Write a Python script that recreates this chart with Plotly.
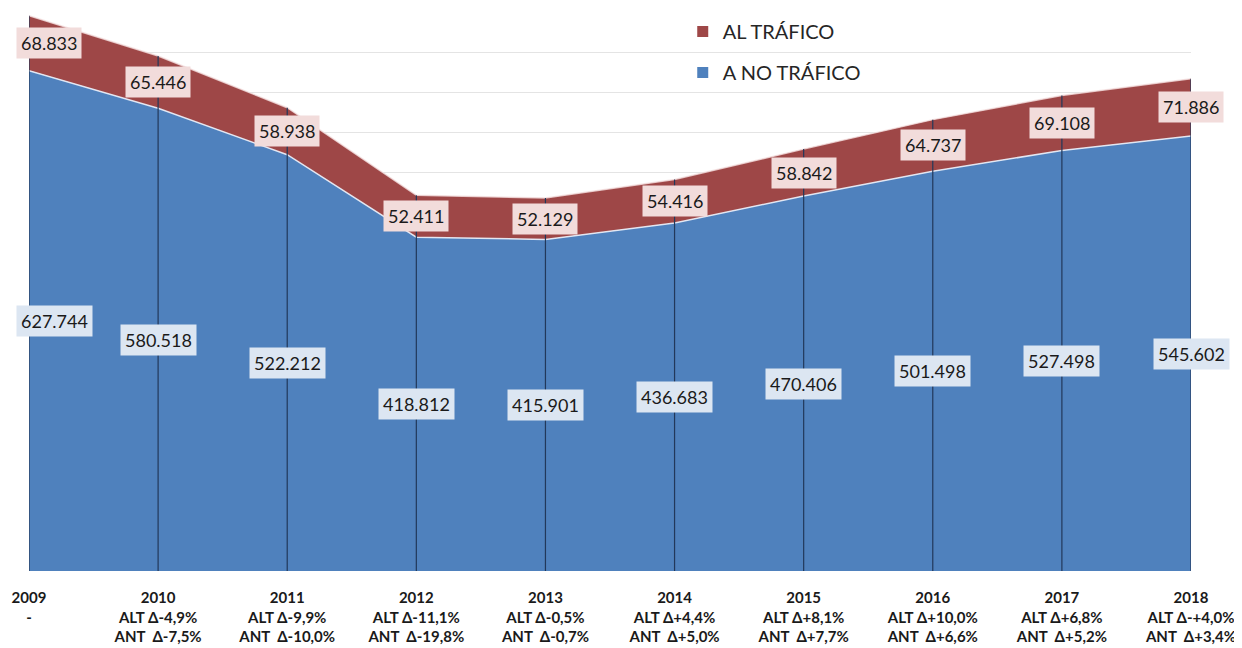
import plotly.graph_objects as go

years = ["2009", "2010", "2011", "2012", "2013", "2014", "2015", "2016", "2017", "2018"]
alt_changes = ["-", "ALT Δ-4,9%", "ALT Δ-9,9%", "ALT Δ-11,1%", "ALT Δ-0,5%", "ALT Δ+4,4%",
               "ALT Δ+8,1%", "ALT Δ+10,0%", "ALT Δ+6,8%", "ALT Δ-+4,0%"]
ant_changes = ["", "ANT  Δ-7,5%", "ANT  Δ-10,0%", "ANT  Δ-19,8%", "ANT  Δ-0,7%", "ANT  Δ+5,0%",
               "ANT  Δ+7,7%", "ANT  Δ+6,6%", "ANT  Δ+5,2%", "ANT  Δ+3,4%"]
no_trafico = [627.744, 580.518, 522.212, 418.812, 415.901, 436.683, 470.406, 501.498, 527.498, 545.602]
al_trafico = [68.833, 65.446, 58.938, 52.411, 52.129, 54.416, 58.842, 64.737, 69.108, 71.886]

BLUE = "#4f81bd"
RED = "#9e4747"
FONT = "Lato, 'Open Sans', sans-serif"

xs = list(range(len(years)))
totals = [a + b for a, b in zip(no_trafico, al_trafico)]

ticktext = []
for y, a, n in zip(years, alt_changes, ant_changes):
    ticktext.append(f"<b>{y}<br>{a}<br>{n.replace('  ', '\u00a0 ')}</b>")

fig = go.Figure()
fig.add_trace(go.Scatter(
    x=xs, y=no_trafico, mode="lines", stackgroup="one",
    fillcolor=BLUE, line=dict(color="rgba(235,242,252,0.9)", width=1.5),
    name="A NO TRÁFICO", showlegend=False, hoverinfo="skip"))
fig.add_trace(go.Scatter(
    x=xs, y=al_trafico, mode="lines", stackgroup="one",
    fillcolor=RED, line=dict(color="rgba(245,225,225,0.8)", width=1.5),
    name="AL TRÁFICO", showlegend=False, hoverinfo="skip"))

# drop lines from baseline to the top of the stack
dx, dy = [], []
for x, t in zip(xs, totals):
    dx += [x, x, None]
    dy += [0, t, None]
fig.add_trace(go.Scatter(x=dx, y=dy, mode="lines", line=dict(color="#22385a", width=1.2),
                         showlegend=False, hoverinfo="skip"))

# legend entries
fig.add_trace(go.Scatter(x=[None], y=[None], mode="markers", name="AL TRÁFICO",
                         marker=dict(symbol="square", size=11, color=RED), legendgroup="a"))
fig.add_trace(go.Scatter(x=[None], y=[None], mode="markers", name="A NO TRÁFICO",
                         marker=dict(symbol="square", size=11, color=BLUE), legendgroup="b"))

# data labels
for i, (x, b, r) in enumerate(zip(xs, no_trafico, al_trafico)):
    first = i == 0
    common = dict(x=x, xref="x", yref="y", showarrow=False,
                  font=dict(family=FONT, size=18, color="#1a1a1a"),
                  borderpad=4,
                  xanchor="left" if first else "center",
                  xshift=-13 if first else 0)
    fig.add_annotation(y=b / 2, text=f"{b:.3f}", bgcolor="#dce6f2", **common)
    fig.add_annotation(y=b + r / 2, text=f"{r:.3f}", bgcolor="#f2dcdb", **common)

fig.update_layout(
    width=1242, height=648,
    margin=dict(l=21, r=59, t=5, b=85, autoexpand=False),
    plot_bgcolor="white", paper_bgcolor="white",
    font=dict(family=FONT, color="#1a1a1a"),
    showlegend=True,
    legend=dict(x=0.5626, y=1.002, xanchor="left", yanchor="top",
                font=dict(size=20, color="#262626"), tracegroupgap=12,
                bgcolor="rgba(0,0,0,0)"),
    xaxis=dict(range=[0, 9], tickvals=xs, ticktext=ticktext, showgrid=False,
               zeroline=False, showline=False, ticks="", automargin=False,
               ticklabeloverflow="allow", ticklabelstandoff=16,
               tickfont=dict(family=FONT, size=15, color="#1a1a1a"), fixedrange=True),
    yaxis=dict(range=[0, 700], dtick=50, showgrid=True, gridcolor="#e4e4e4", gridwidth=1,
               showticklabels=False, zeroline=False, showline=False, fixedrange=True,
               automargin=False),
)

fig.write_html("out.html")
